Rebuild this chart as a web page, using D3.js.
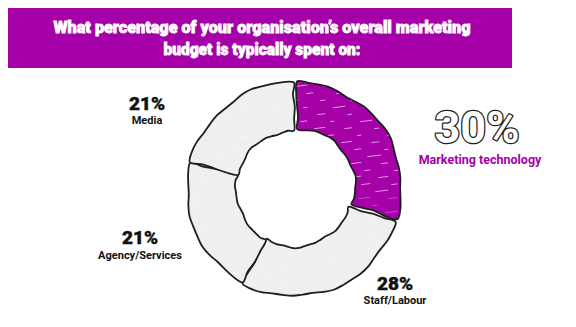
<!DOCTYPE html>
<html>
<head>
<meta charset="utf-8">
<script src="https://cdn.jsdelivr.net/npm/d3@7"></script>
<style>
  html, body { margin: 0; padding: 0; background: #fff; }
  svg { display: block; font-family: Roboto, "Noto Sans", sans-serif; }
</style>
</head>
<body>
<svg id="chart" width="576" height="327"></svg>
<script>
// Budget split shown in the donut (clockwise from 12 o'clock)
const categories = ["Marketing technology", "Staff/Labour", "Agency/Services", "Media"];
const shares = [30, 28, 21, 21];
const percentLabels = ["30%", "28%", "21%", "21%"];
const titleLines = [
  "What percentage of your organisation\u2019s overall marketing",
  "budget is typically spent on:"
];

const magenta = "#a600a8";
const grey = "#efefef";
const ink = "#1e1e1e";

const svg = d3.select("#chart");

// Title banner
svg.append("rect")
  .attr("x", 8).attr("y", 8).attr("width", 504).attr("height", 60)
  .attr("fill", magenta);

const titleY = [33, 55];
const titleW = [417, 197];
svg.selectAll("text.title")
  .data(titleLines)
  .join("text")
  .attr("class", "title")
  .attr("x", 262)
  .attr("y", (d, i) => titleY[i])
  .attr("text-anchor", "middle")
  .attr("fill", "#fff")
  .attr("stroke", "#fff")
  .attr("stroke-width", 0.8)
  .attr("font-size", 16)
  .attr("font-weight", 900)
  .attr("textLength", (d, i) => titleW[i])
  .attr("lengthAdjust", "spacingAndGlyphs")
  .text(d => d);

// Donut
const cx = 294, cy = 189;
const outerR = 107, innerR = 58;
const data = categories.map((c, i) => ({ name: c, value: shares[i], label: percentLabels[i] }));

const pie = d3.pie().value(d => d.value).sort(null);
const arcs = pie(data);

const g = svg.append("g").attr("transform", `translate(${cx},${cy})`);

// Small smooth wobble so the outlines look hand drawn
function wobble(t, seed) {
  return 1.1 * Math.sin(7 * t + seed) + 0.7 * Math.sin(17 * t + 2.3 * seed);
}

// Outline of one slice as a list of points (outer edge, side, inner edge, side)
function slicePoints(d, i) {
  const ro = i === 0 ? outerR - 3 : outerR;
  const ri = innerR;
  const pts = [];
  const a0 = d.startAngle, a1 = d.endAngle;
  const n = Math.max(6, Math.round((a1 - a0) * 10));
  const pt = (a, r) => [Math.sin(a) * r, -Math.cos(a) * r];
  for (let k = 0; k <= n; k++) {
    const a = a0 + (a1 - a0) * k / n;
    pts.push(pt(a, ro + wobble(a, i + 1)));
  }
  for (let k = 1; k < 4; k++) {
    const r = ro + (ri - ro) * k / 4;
    pts.push(pt(a1 + 0.012 * Math.sin(k * 2.1 + i), r));
  }
  for (let k = n; k >= 0; k--) {
    const a = a0 + (a1 - a0) * k / n;
    pts.push(pt(a, ri + 0.8 * wobble(a, i + 4)));
  }
  for (let k = 1; k < 4; k++) {
    const r = ri + (ro - ri) * k / 4;
    pts.push(pt(a0 + 0.012 * Math.sin(k * 1.7 + i), r));
  }
  return pts;
}

const outline = d3.line().curve(d3.curveCatmullRomClosed.alpha(0.5));

// Exploded offset for the highlighted slice
function offset(d, i) {
  if (i !== 0) return [0, 0];
  const a = (d.startAngle + d.endAngle) / 2;
  return [Math.sin(a) * 4, -Math.cos(a) * 4];
}

const defs = svg.append("defs");
arcs.forEach((d, i) => {
  d.path = outline(slicePoints(d, i));
  defs.append("clipPath").attr("id", "clip" + i)
    .append("path").attr("d", d.path);
});

const slices = g.selectAll("g.slice")
  .data(arcs)
  .join("g")
  .attr("class", "slice")
  .attr("transform", (d, i) => { const o = offset(d, i); return `translate(${o[0]},${o[1]})`; });

slices.append("path")
  .attr("d", d => d.path)
  .attr("fill", (d, i) => i === 0 ? magenta : grey);

// Hatching: short faint white strokes across each slice
slices.each(function (d, i) {
  const hg = d3.select(this).append("g").attr("clip-path", `url(#clip${i})`);
  const lines = [];
  for (let y = -outerR, row = 0; y <= outerR; y += 7, row++) {
    for (let x = -outerR; x <= outerR; x += 30) {
      const shift = (row * 13) % 29;
      const len = 4 + Math.abs((row * 7 + x) % 11);
      lines.push([x + shift, y, x + shift + len, y - len * 0.12]);
    }
  }
  hg.selectAll("line").data(lines).join("line")
    .attr("x1", l => l[0]).attr("y1", l => l[1])
    .attr("x2", l => l[2]).attr("y2", l => l[3])
    .attr("stroke", "#fff")
    .attr("stroke-width", 1)
    .attr("stroke-opacity", l => i === 0 ? (l[1] < 10 ? 0.6 : 0.3) : 0.35);
});

slices.append("path")
  .attr("d", d => d.path)
  .attr("fill", "none")
  .attr("stroke", ink)
  .attr("stroke-width", 1.8)
  .attr("stroke-linejoin", "round");

// Category labels
const labelPos = [null, [395, 290, 304], [140, 244, 259], [147, 110, 124]];
arcs.forEach((d, i) => {
  if (i === 0) return;
  const p = labelPos[i];
  svg.append("text")
    .attr("x", p[0]).attr("y", p[1])
    .attr("text-anchor", "middle")
    .attr("font-size", 19).attr("font-weight", 900)
    .attr("fill", "#111").attr("stroke", "#111").attr("stroke-width", 0.4)
    .text(d.data.label);
  svg.append("text")
    .attr("x", p[0]).attr("y", p[2])
    .attr("text-anchor", "middle")
    .attr("font-size", 11).attr("font-weight", 700)
    .attr("fill", "#111")
    .text(d.data.name);
});

// Highlighted slice label
svg.append("text")
  .attr("x", 477).attr("y", 143)
  .attr("text-anchor", "middle")
  .attr("font-size", 45).attr("font-weight", 700)
  .attr("fill", "#fff").attr("stroke", ink).attr("stroke-width", 2.6)
  .attr("stroke-linejoin", "round")
  .attr("paint-order", "stroke")
  .text(arcs[0].data.label);
svg.append("text")
  .attr("x", 480).attr("y", 164)
  .attr("text-anchor", "middle")
  .attr("font-size", 12.5).attr("font-weight", 700)
  .attr("fill", magenta)
  .text(arcs[0].data.name);
</script>
</body>
</html>
